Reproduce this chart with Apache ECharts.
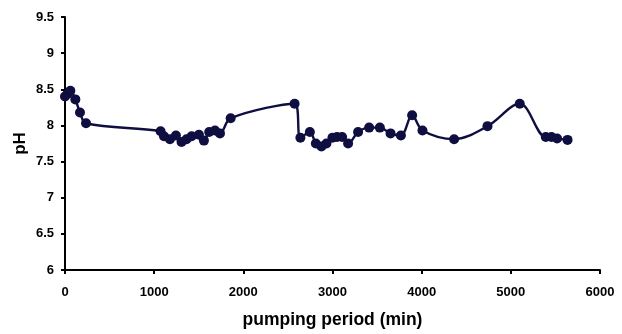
<!DOCTYPE html>
<html>
<head>
<meta charset="utf-8">
<script src="https://cdn.jsdelivr.net/npm/echarts@6/dist/echarts.min.js"></script>
<style>
  html, body { margin: 0; padding: 0; background: #fff; }
  #chart { width: 622px; height: 334px; }
</style>
</head>
<body>
<div id="chart"></div>
<script>
// Pumping time (min) and measured pH
const pumpingMinutes = [0, 30, 60, 116, 168, 236, 1072, 1110, 1177, 1244, 1307, 1363, 1420, 1502, 1558, 1617, 1682, 1738, 1858, 2575, 2640, 2746, 2813, 2876, 2932, 2999, 3051, 3108, 3175, 3287, 3411, 3531, 3651, 3767, 3893, 4009, 4364, 4738, 5100, 5392, 5456, 5519, 5636];
const pHValues = [8.40, 8.44, 8.48, 8.36, 8.18, 8.03, 7.92, 7.85, 7.81, 7.86, 7.77, 7.81, 7.85, 7.87, 7.79, 7.91, 7.93, 7.89, 8.10, 8.30, 7.83, 7.91, 7.75, 7.71, 7.75, 7.83, 7.84, 7.84, 7.75, 7.91, 7.97, 7.97, 7.89, 7.86, 8.14, 7.93, 7.81, 7.99, 8.30, 7.84, 7.84, 7.82, 7.80];

const chart = echarts.init(document.getElementById('chart'));
const font = 'Liberation Sans, Arial, sans-serif';
const ink = '#0e0e40';

chart.setOption({
  animation: false,
  grid: { left: 65, right: 22, top: 17, bottom: 63 },
  xAxis: {
    type: 'value', min: 0, max: 6000, interval: 1000,
    name: 'pumping period (min)', nameLocation: 'middle', nameGap: 41,
    nameTextStyle: { fontFamily: font, fontWeight: 'bold', fontSize: 17.5, color: '#000' },
    axisLine: { lineStyle: { color: '#000', width: 2 } },
    axisTick: { show: true, length: 4, lineStyle: { color: '#000', width: 2 } },
    axisLabel: { fontFamily: font, fontWeight: 'bold', fontSize: 13, color: '#000', margin: 16,
      formatter: v => String(v) },
    splitLine: { show: false }
  },
  yAxis: {
    type: 'value', min: 6, max: 9.5, interval: 0.5,
    name: 'pH', nameLocation: 'middle', nameGap: 36, nameRotate: 90,
    nameMoveOverlap: false,
    nameTextStyle: { fontFamily: font, fontWeight: 'bold', fontSize: 17, color: '#000' },
    axisLine: { show: true, lineStyle: { color: '#000', width: 2 } },
    axisTick: { show: true, length: 4, lineStyle: { color: '#000', width: 2 } },
    axisLabel: { fontFamily: font, fontWeight: 'bold', fontSize: 13, color: '#000', margin: 11 },
    splitLine: { show: false }
  },
  series: [{
    type: 'line',
    data: pumpingMinutes.map((t, i) => [t, pHValues[i]]),
    smooth: 0.35,
    symbol: 'circle',
    symbolSize: 10,
    lineStyle: { color: ink, width: 2.4 },
    itemStyle: { color: ink }
  }]
});
</script>
</body>
</html>
